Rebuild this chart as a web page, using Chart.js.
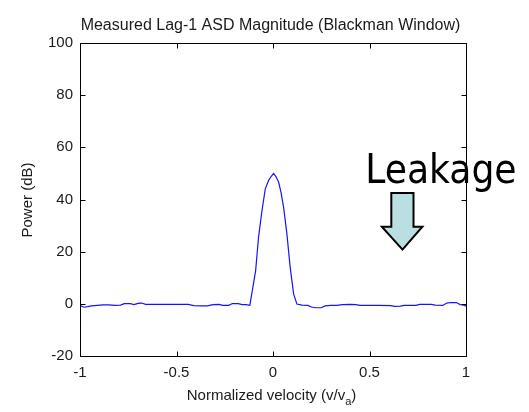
<!DOCTYPE html>
<html>
<head>
<meta charset="utf-8">
<script src="https://cdn.jsdelivr.net/npm/chart.js@4.4.1/dist/chart.umd.min.js"></script>
<style>
  html, body { margin: 0; padding: 0; background: #fff; }
  #chart { display: block; }
</style>
</head>
<body>
<canvas id="chart" width="529" height="412"></canvas>
<script>
// normalized velocity (v/va) and measured power (dB)
const velocity = [
  -1.00, -0.98, -0.96, -0.94, -0.91, -0.88, -0.85, -0.82, -0.79, -0.77,
  -0.74, -0.72, -0.70, -0.68, -0.66, -0.60, -0.52, -0.44, -0.41, -0.37,
  -0.34, -0.31, -0.28, -0.26, -0.23, -0.21, -0.18, -0.16, -0.14, -0.12,
  -0.11, -0.09, -0.075, -0.057, -0.04, -0.023, -0.01, 0.003, 0.015, 0.029,
  0.042, 0.055, 0.072, 0.089, 0.107, 0.124, 0.15, 0.18, 0.20, 0.22,
  0.25, 0.27, 0.30, 0.33, 0.36, 0.40, 0.43, 0.45, 0.55, 0.61,
  0.63, 0.66, 0.68, 0.74, 0.76, 0.82, 0.84, 0.88, 0.90, 0.92,
  0.95, 0.97, 0.99, 1.00
];
const power = [
  -0.6, -1.3, -1.1, -0.8, -0.6, -0.4, -0.4, -0.6, -0.5, 0.1,
  0.1, -0.3, 0.2, 0.3, -0.2, -0.2, -0.2, -0.2, -0.7, -0.8,
  -0.8, -0.3, -0.2, -0.6, -0.6, 0.1, 0.1, -0.3, -0.3, -0.6,
  3.8, 12.7, 25.5, 35.8, 44.1, 47.3, 48.8, 50.0, 48.8, 46.7,
  42.5, 37.0, 26.8, 14.0, 3.7, -0.1, -0.5, -0.6, -1.2, -1.5,
  -1.5, -0.8, -0.6, -0.6, -0.3, -0.2, -0.3, -0.6, -0.6, -0.7,
  -1.0, -0.9, -0.6, -0.6, -0.2, -0.2, -0.5, -0.6, 0.3, 0.5,
  0.5, -0.3, -0.5, -0.9
];
const xTicks = [-1, -0.5, 0, 0.5, 1];
const yTicks = [-20, 0, 20, 40, 60, 80, 100];

const titleText = 'Measured Lag-1 ASD Magnitude (Blackman Window)';
const yLabel = 'Power (dB)';
const calloutText = 'Leakage';

const font = '"Liberation Sans", Arial, sans-serif';

// inward ticks, box, titles and the "Leakage" callout
const decorations = {
  id: 'decorations',
  afterDraw(chart) {
    const { ctx, chartArea: a, scales: { x, y } } = chart;
    const L = Math.round(a.left) + 0.5, R = Math.round(a.right) + 0.5;
    const T = Math.round(a.top) + 0.5, B = Math.round(a.bottom) + 0.5;
    ctx.save();
    ctx.strokeStyle = '#000';
    ctx.lineWidth = 1;
    ctx.beginPath();
    ctx.rect(L, T, R - L, B - T);
    xTicks.forEach(v => {
      const px = Math.round(x.getPixelForValue(v)) + 0.5;
      ctx.moveTo(px, B); ctx.lineTo(px, B - 5);
      ctx.moveTo(px, T); ctx.lineTo(px, T + 5);
    });
    yTicks.forEach(v => {
      const py = Math.round(y.getPixelForValue(v)) + 0.5;
      ctx.moveTo(L, py); ctx.lineTo(L + 5, py);
      ctx.moveTo(R, py); ctx.lineTo(R - 5, py);
    });
    ctx.stroke();

    ctx.fillStyle = '#1a1a1a';
    ctx.textAlign = 'center';
    ctx.textBaseline = 'alphabetic';
    ctx.font = '16px ' + font;
    ctx.fillText(titleText, (L + R) / 2 - 3, 30);

    // x label with subscript
    ctx.font = '15px ' + font;
    const main = 'Normalized velocity (v/v';
    const wMain = ctx.measureText(main).width;
    ctx.font = '11px ' + font;
    const wSub = ctx.measureText('a').width;
    ctx.font = '15px ' + font;
    const wEnd = ctx.measureText(')').width;
    let sx = (L + R) / 2 - 2 - (wMain + wSub + wEnd) / 2;
    ctx.textAlign = 'left';
    ctx.fillText(main, sx, 400);
    ctx.font = '11px ' + font;
    ctx.fillText('a', sx + wMain, 405);
    ctx.font = '15px ' + font;
    ctx.fillText(')', sx + wMain + wSub, 400);

    // y label
    ctx.save();
    ctx.translate(28, (T + B) / 2);
    ctx.rotate(-Math.PI / 2);
    ctx.textAlign = 'center';
    ctx.textBaseline = 'middle';
    ctx.fillText(yLabel, 0, 0);
    ctx.restore();

    // callout arrow (data units)
    const arrow = [[0.613, 42.5], [0.728, 42.5], [0.728, 29.6], [0.774, 29.6],
                   [0.671, 20.8], [0.564, 29.6], [0.613, 29.6]];
    ctx.beginPath();
    arrow.forEach(([vx, vy], i) => {
      const px = x.getPixelForValue(vx), py = y.getPixelForValue(vy);
      if (i) ctx.lineTo(px, py); else ctx.moveTo(px, py);
    });
    ctx.closePath();
    ctx.fillStyle = '#b9dfe3';
    ctx.fill();
    ctx.lineWidth = 2;
    ctx.lineJoin = 'miter';
    ctx.strokeStyle = '#000';
    ctx.stroke();

    // callout text, fitted between two x values
    const tx0 = x.getPixelForValue(0.478), tx1 = x.getPixelForValue(1.262);
    const ty = y.getPixelForValue(46.2);
    ctx.font = '40px "DejaVu Sans Condensed", "DejaVu Sans", Tahoma, sans-serif';
    const w = ctx.measureText(calloutText).width;
    ctx.translate(tx0, ty);
    ctx.scale((tx1 - tx0) / w, 1);
    ctx.fillStyle = '#000';
    ctx.textAlign = 'left';
    ctx.textBaseline = 'alphabetic';
    ctx.fillText(calloutText, 0, 0);
    ctx.restore();
  }
};

new Chart(document.getElementById('chart'), {
  type: 'line',
  data: {
    datasets: [{
      data: velocity.map((v, i) => ({ x: v, y: power[i] })),
      borderColor: 'rgb(20,20,255)',
      borderWidth: 1.2,
      pointRadius: 0,
      tension: 0,
      fill: false
    }]
  },
  options: {
    responsive: false,
    animation: false,
    devicePixelRatio: 1,
    layout: { padding: { top: 43, right: 63, left: 0, bottom: 0 } },
    plugins: { legend: { display: false }, tooltip: { enabled: false }, title: { display: false } },
    scales: {
      x: {
        type: 'linear', min: -1, max: 1,
        afterBuildTicks: s => { s.ticks = xTicks.map(v => ({ value: v })); },
        afterFit: s => { s.height = 56; },
        grid: { display: false, drawTicks: false },
        border: { display: false },
        ticks: { color: '#1a1a1a', font: { family: font, size: 15 }, padding: 8, maxRotation: 0,
                 callback: v => String(v) }
      },
      y: {
        min: -20, max: 100,
        afterBuildTicks: s => { s.ticks = yTicks.map(v => ({ value: v })); },
        afterFit: s => { s.width = 80; },
        grid: { display: false, drawTicks: false },
        border: { display: false },
        ticks: { color: '#1a1a1a', font: { family: font, size: 15 }, padding: 7,
                 callback: v => String(v) }
      }
    }
  },
  plugins: [decorations]
});
</script>
</body>
</html>
